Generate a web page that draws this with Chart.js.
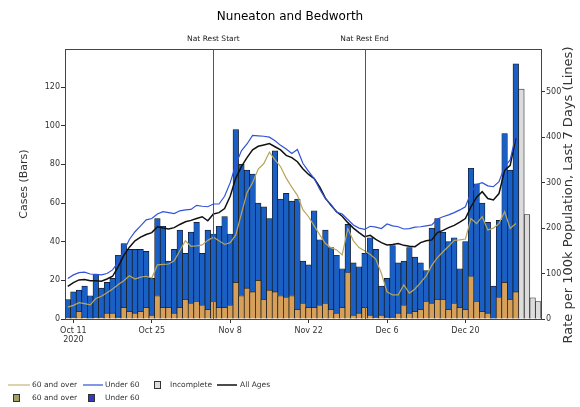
<!DOCTYPE html>
<html>
<head>
<meta charset="utf-8">
<script src="https://cdn.jsdelivr.net/npm/chart.js@4.4.1/dist/chart.umd.min.js"></script>
<style>
  html, body { margin: 0; padding: 0; background: #fff; }
  #wrap { width: 580px; height: 407px; position: relative; }
</style>
</head>
<body>
<div id="wrap"><canvas id="casesChart"></canvas></div>
<script>
const days = [
  "Oct 10", "Oct 11", "Oct 12", "Oct 13", "Oct 14", "Oct 15", "Oct 16", "Oct 17", "Oct 18", "Oct 19", "Oct 20",
  "Oct 21", "Oct 22", "Oct 23", "Oct 24", "Oct 25", "Oct 26", "Oct 27", "Oct 28", "Oct 29", "Oct 30", "Oct 31",
  "Nov 1", "Nov 2", "Nov 3", "Nov 4", "Nov 5", "Nov 6", "Nov 7", "Nov 8", "Nov 9", "Nov 10",
  "Nov 11", "Nov 12", "Nov 13", "Nov 14", "Nov 15", "Nov 16", "Nov 17", "Nov 18", "Nov 19", "Nov 20",
  "Nov 21", "Nov 22", "Nov 23", "Nov 24", "Nov 25", "Nov 26", "Nov 27", "Nov 28", "Nov 29", "Nov 30",
  "Dec 1", "Dec 2", "Dec 3", "Dec 4", "Dec 5", "Dec 6", "Dec 7", "Dec 8", "Dec 9", "Dec 10",
  "Dec 11", "Dec 12", "Dec 13", "Dec 14", "Dec 15", "Dec 16", "Dec 17", "Dec 18", "Dec 19", "Dec 20",
  "Dec 21", "Dec 22", "Dec 23", "Dec 24", "Dec 25", "Dec 26", "Dec 27", "Dec 28", "Dec 29", "Dec 30", "Dec 31",
  "Jan 1", "Jan 2"
];
const tickDays = ["Oct 11", "Oct 25", "Nov 8", "Nov 22", "Dec 6", "Dec 20"];
const casesTicks = [0, 20, 40, 60, 80, 100, 120];
const rateTicks = [0, 100, 200, 300, 400, 500];
const natRestStart = "Nov 5";
const natRestEnd = "Dec 2";

// daily cases, Oct 10 - Dec 29
const cases60Plus = [
  1, 1, 4, 1, 0, 1, 1, 3, 3, 1, 6, 4, 3, 4, 6, 2, 12, 6, 6, 3,
  6, 10, 8, 9, 7, 5, 9, 6, 6, 7, 19, 12, 16, 14, 20, 10, 15, 14, 12, 11,
  12, 5, 8, 6, 6, 7, 8, 5, 3, 6, 24, 2, 3, 6, 2, 1, 2, 1, 1, 3,
  7, 3, 4, 5, 9, 8, 10, 10, 5, 8, 6, 5, 22, 9, 4, 3, 0, 11, 19, 10, 14
];
const casesUnder60 = [
  9, 13, 11, 16, 12, 22, 15, 16, 18, 32, 33, 32, 33, 32, 29, 19, 40, 42, 24, 33,
  40, 24, 37, 41, 27, 41, 35, 42, 47, 37, 79, 68, 61, 61, 40, 48, 37, 73, 50, 54,
  49, 57, 22, 22, 50, 34, 38, 32, 30, 20, 25, 27, 24, 28, 40, 35, 15, 20, 37, 26,
  23, 34, 28, 24, 16, 39, 42, 35, 35, 34, 20, 35, 56, 61, 56, 47, 17, 40, 77, 67, 118
];
const incompleteDays = ["Dec 30", "Dec 31", "Jan 1", "Jan 2"];
const incompleteCases = [119, 54, 11, 9];

// rate per 100k, last 7 days
const rate60Plus = [
  26, 30, 36, 34, 31, 45, 50, 58, 66, 76, 84, 95, 88, 92, 94, 90, 119, 120, 121, 128,
  150, 172, 160, 161, 163, 173, 180, 172, 164, 168, 185, 232, 278, 300, 330, 342, 367, 350, 335, 310,
  290, 272, 240, 225, 205, 185, 166, 157, 152, 141, 199, 172, 157, 150, 142, 132, 100, 60, 53, 53,
  75, 57, 66, 80, 95, 118, 135, 148, 160, 173, 174, 176, 221, 210, 225, 196, 200, 210, 236, 199, 210
];
const rateUnder60 = [
  89, 97, 102, 103, 99, 98, 97, 100, 108, 125, 150, 175, 192, 205, 218, 221, 231, 236, 234, 232,
  238, 240, 241, 250, 248, 247, 253, 253, 270, 300, 340, 370, 385, 404, 403, 402, 400, 392, 382, 374,
  364, 373, 342, 325, 309, 285, 265, 252, 235, 231, 219, 207, 200, 197, 204, 202, 199, 209, 205, 203,
  198, 199, 202, 203, 205, 207, 220, 225, 229, 234, 240, 247, 278, 296, 300, 293, 291, 302, 335, 350, 405
];
const rateAllAges = [
  72, 80, 86, 87, 84, 84, 83, 88, 94, 115, 140, 158, 172, 180, 186, 190, 203, 200, 198, 201,
  208, 214, 217, 221, 225, 216, 231, 234, 243, 270, 310, 335, 355, 372, 380, 383, 386, 379, 372, 360,
  355, 346, 330, 318, 309, 290, 266, 250, 236, 226, 212, 200, 190, 181, 184, 175, 168, 163, 164, 166,
  162, 160, 159, 168, 172, 174, 190, 195, 201, 206, 213, 221, 247, 268, 280, 265, 262, 276, 327, 338, 398
];

const bar60Color = "#d6a05a";
const barU60Color = "#1a5fc4";
const line60Color = "#b8a55e";
const lineU60Color = "#3153d8";
const lineAllColor = "#111111";
const font = "'DejaVu Sans', sans-serif";

Chart.defaults.font.family = font;
Chart.defaults.color = "#333";

const incompleteData = days.map((d) => {
  const i = incompleteDays.indexOf(d);
  return i >= 0 ? incompleteCases[i] : null;
});

function drawLegend(ctx) {
  ctx.font = "7.5px " + font;
  ctx.textAlign = "left";
  ctx.textBaseline = "middle";
  const line = (x1, x2, y, color, w) => {
    ctx.strokeStyle = color; ctx.lineWidth = w;
    ctx.beginPath(); ctx.moveTo(x1, y); ctx.lineTo(x2, y); ctx.stroke();
  };
  const box = (x, y, fill) => {
    ctx.fillStyle = fill; ctx.fillRect(x, y - 4, 7, 8);
    ctx.strokeStyle = "#333"; ctx.lineWidth = 1; ctx.strokeRect(x + 0.5, y - 3.5, 6, 7);
  };
  const text = (s, x, y) => { ctx.fillStyle = "#333"; ctx.fillText(s, x, y); };

  let y = 385;
  line(8, 30, y, line60Color, 1); text("60 and over", 32, y);
  line(83, 103, y, lineU60Color, 1.2); text("Under 60", 105, y);
  box(154, y, "#dcdcdc"); text("Incomplete", 170, y);
  line(217, 237, y, lineAllColor, 1.5); text("All Ages", 240, y);
  y = 398;
  box(13, y, "#a3a066"); text("60 and over", 32, y);
  box(88, y, "#3339c0"); text("Under 60", 105, y);
}

const extrasPlugin = {
  id: "extras",
  afterDatasetsDraw(chart) {
    const { ctx, chartArea, scales } = chart;
    ctx.save();
    ctx.strokeStyle = "#555";
    ctx.lineWidth = 1;
    [natRestStart, natRestEnd].forEach((d) => {
      const x = Math.round(scales.x.getPixelForValue(days.indexOf(d))) + 0.5;
      ctx.beginPath();
      ctx.moveTo(x, chartArea.top);
      ctx.lineTo(x, chartArea.bottom);
      ctx.stroke();
    });
    ctx.restore();
  },
  afterDraw(chart) {
    const { ctx, chartArea, scales } = chart;
    ctx.save();
    ctx.strokeStyle = "#444";
    ctx.lineWidth = 1;
    ctx.beginPath();
    ctx.moveTo(chartArea.left, chartArea.top + 0.5);
    ctx.lineTo(chartArea.right, chartArea.top + 0.5);
    ctx.stroke();

    ctx.fillStyle = "#222";
    ctx.font = "7.5px " + font;
    ctx.textAlign = "center";
    ctx.textBaseline = "middle";
    ctx.fillText("Nat Rest Start", scales.x.getPixelForValue(days.indexOf(natRestStart)), chartArea.top - 10);
    ctx.fillText("Nat Rest End", scales.x.getPixelForValue(days.indexOf(natRestEnd)), chartArea.top - 10);

    ctx.save();
    ctx.translate(569, 195);
    ctx.rotate(-Math.PI / 2);
    ctx.font = "13px " + font;
    ctx.fillStyle = "#333";
    ctx.fillText("Rate per 100k Population, Last 7 Days (Lines)", 0, 0);
    ctx.restore();

    drawLegend(ctx);
    ctx.restore();
  },
};

const ctx = document.getElementById("casesChart").getContext("2d");
new Chart(ctx, {
  type: "bar",
  data: {
    labels: days,
    datasets: [
      { type: "line", label: "60 and over", data: rate60Plus, yAxisID: "y1", borderColor: line60Color, borderWidth: 1.2, pointRadius: 0, order: 0 },
      { type: "line", label: "Under 60", data: rateUnder60, yAxisID: "y1", borderColor: lineU60Color, borderWidth: 1.2, pointRadius: 0, order: 0 },
      { type: "line", label: "All Ages", data: rateAllAges, yAxisID: "y1", borderColor: lineAllColor, borderWidth: 1.5, pointRadius: 0, order: 0 },
      { label: "60 and over", data: cases60Plus, backgroundColor: bar60Color, borderColor: "#111", borderWidth: 0.7, stack: "c", order: 1 },
      { label: "Under 60", data: casesUnder60, backgroundColor: barU60Color, borderColor: "#111", borderWidth: 0.7, stack: "c", order: 1 },
      { label: "Incomplete", data: incompleteData, backgroundColor: "#dcdcdc", borderColor: "#222", borderWidth: 0.8, stack: "c", order: 1 },
    ],
  },
  options: {
    responsive: true,
    maintainAspectRatio: false,
    animation: false,
    datasets: { bar: { categoryPercentage: 1, barPercentage: 1 } },
    layout: { padding: 0 },
    plugins: {
      legend: { display: false },
      tooltip: { enabled: false },
      title: {
        display: true,
        text: "Nuneaton and Bedworth",
        color: "#000",
        font: { size: 12, weight: "normal" },
        padding: { top: 10, bottom: 24.6 },
      },
    },
    scales: {
      x: {
        stacked: true,
        offset: true,
        grid: { display: true, drawOnChartArea: false, offset: false, tickLength: 4, color: "#333" },
        border: { color: "#444" },
        ticks: {
          autoSkip: false,
          maxRotation: 0,
          padding: 3,
          font: { size: 8 },
          callback: (value) => (days[value] === "Oct 11" ? [days[value], "2020"] : days[value]),
        },
        afterBuildTicks: (scale) => {
          scale.ticks = scale.ticks.filter((t) => tickDays.includes(days[t.value]));
        },
        afterFit: (scale) => { scale.height = 88; },
      },
      y: {
        stacked: true,
        position: "left",
        min: 0,
        max: 139.7,
        grid: { display: true, drawOnChartArea: false, tickLength: 4, color: "#333" },
        border: { color: "#444" },
        ticks: { autoSkip: false, padding: 1, font: { size: 8 } },
        afterBuildTicks: (scale) => {
          scale.ticks = casesTicks.map((v) => ({ value: v }));
        },
        title: { display: true, text: "Cases (Bars)", font: { size: 11 }, color: "#333", padding: { top: 18 } },
        afterFit: (scale) => { scale.width = 65; },
      },
      y1: {
        position: "right",
        min: 0,
        max: 594,
        grid: { display: true, drawOnChartArea: false, tickLength: 4, color: "#333" },
        border: { color: "#444" },
        ticks: { autoSkip: false, padding: 1, font: { size: 8 } },
        afterBuildTicks: (scale) => {
          scale.ticks = rateTicks.map((v) => ({ value: v }));
        },
        afterFit: (scale) => { scale.width = 39; },
      },
    },
  },
  plugins: [extrasPlugin],
});
</script>
</body>
</html>
